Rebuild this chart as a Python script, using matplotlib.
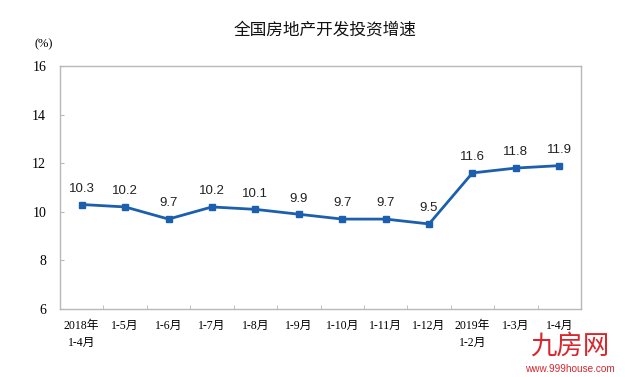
import numpy as np
import matplotlib
matplotlib.use('Agg')
import matplotlib.pyplot as plt

categories = ['2018年\n1-4月', '1-5月', '1-6月', '1-7月', '1-8月', '1-9月',
              '1-10月', '1-11月', '1-12月', '2019年\n1-2月', '1-3月', '1-4月']
growth = [10.3, 10.2, 9.7, 10.2, 10.1, 9.9, 9.7, 9.7, 9.5, 11.6, 11.8, 11.9]
yticks = [6, 8, 10, 12, 14, 16]

serif = ['Liberation Serif', 'Noto Sans CJK SC']
sans = ['Liberation Sans', 'Noto Sans CJK SC']
blue = '#1c5fae'
grey = '#b8b8b8'

fig = plt.figure(figsize=(6.25, 3.77), dpi=100)
ax = fig.add_axes([0.096, 0.1804, 0.8336, 0.6445])

x = np.arange(len(growth))
ax.plot(x, growth, color=blue, lw=2, marker='s', ms=5, mfc=blue, mec=blue)
for xi, v in zip(x, growth):
    ax.annotate(f'{v:.1f}', (xi, v), xytext=(0, 7), textcoords='offset points',
                ha='center', va='bottom', fontsize=9.5, color='#222222', family=sans)

ax.set_xlim(-0.5, len(growth) - 0.5)
ax.set_ylim(6, 16)
ax.set_yticks(yticks)
ax.set_yticklabels([str(t) for t in yticks], family=serif, fontsize=10)
ax.set_xticks(x)
ax.set_xticklabels(categories, family=serif, fontsize=8.5, linespacing=1.5, va='top')
ax.set_xticks(np.arange(0.5, len(growth) - 1, 1), minor=True)
ax.tick_params(axis='x', which='major', length=0, pad=8)
ax.tick_params(axis='x', which='minor', direction='in', length=3, color=grey)
ax.tick_params(axis='y', direction='in', length=3, color=grey, pad=10)
for s in ax.spines.values():
    s.set_color(grey)
    s.set_linewidth(1)

fig.text(0.52, 0.92, '全国房地产开发投资增速', ha='center', va='center',
         fontsize=12, family=sans, color='#111111')
fig.text(0.07, 0.883, '(%)', ha='center', va='center', fontsize=9, family=serif)

# watermark
fig.text(0.912, 0.082, '九房网', ha='center', va='center', fontsize=19,
         family=sans, color='#d8262c')
fig.text(0.912, 0.02, 'www.999house.com', ha='center', va='center', fontsize=7.2,
         family=sans, color='#d8262c')

fig.savefig('out.png', dpi=100)
